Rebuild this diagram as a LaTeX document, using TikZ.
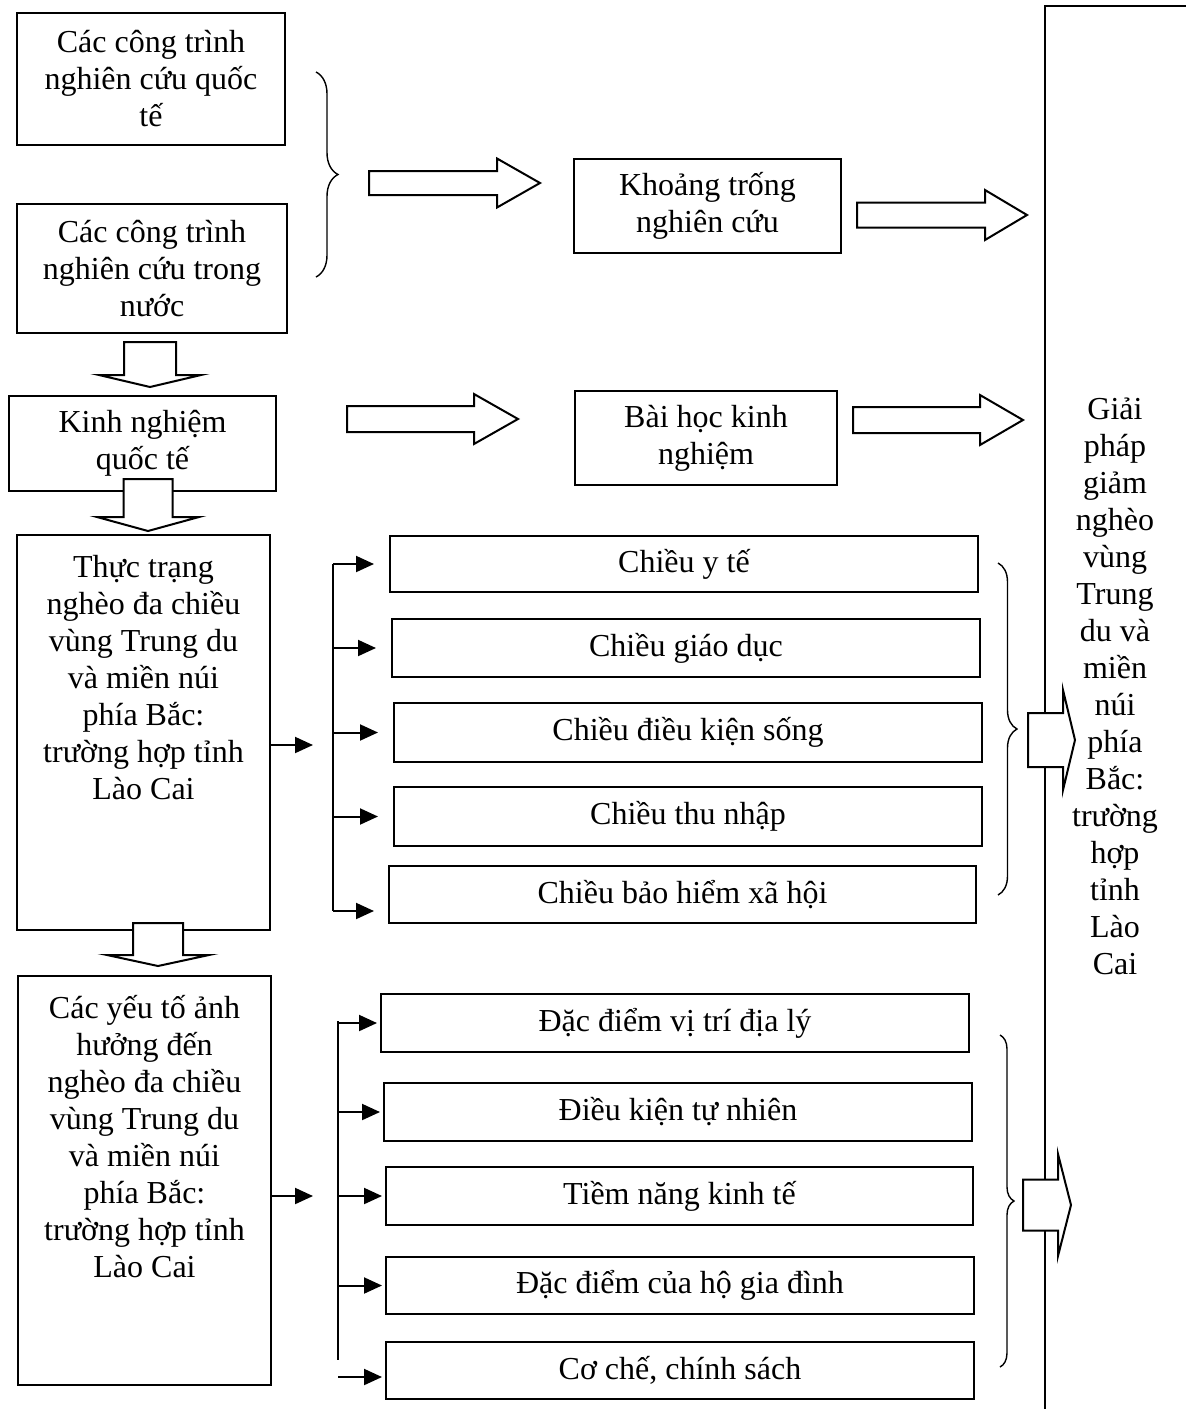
\documentclass[tikz,border=0pt]{standalone}
\usepackage{fontspec}
\setmainfont{Liberation Serif}
\usetikzlibrary{arrows.meta,decorations.pathreplacing}

\tikzset{
  box/.style={draw, rectangle, line width=1pt, align=center, inner sep=2pt},
  tallbox/.style={draw, rectangle, line width=1pt, inner sep=0pt},
  tip/.style={-{Triangle[length=9pt,width=8pt]}, line width=1pt},
  hollow/.style={draw, fill=white, line width=1pt, line join=miter},
  curly/.style={decorate, decoration={brace, amplitude=#1}, line width=0.7pt},
}
% block arrows: start, head base, tip, centre line, shaft half width, head half width
\newcommand{\hollowR}[6]{\draw[hollow] ({#1},{#4-#5}) -- ({#2},{#4-#5}) -- ({#2},{#4-#6}) -- ({#3},{#4}) -- ({#2},{#4+#6}) -- ({#2},{#4+#5}) -- ({#1},{#4+#5}) -- cycle;}
\newcommand{\hollowD}[6]{\draw[hollow] ({#1-#5},{#2}) -- ({#1+#5},{#2}) -- ({#1+#5},{#3}) -- ({#1+#6},{#3}) -- ({#1},{#4}) -- ({#1-#6},{#3}) -- ({#1-#5},{#3}) -- cycle;}

\begin{document}
\begin{tikzpicture}[x=0.5pt, y=-0.5pt, font=\fontsize{16pt}{18.5pt}\selectfont]
\useasboundingbox (0,0) rectangle (1186,1409);

% right frame (cut by the page)
\draw[line width=1pt] (1045,1420) |- (1200,6);

% left column
\node (intl) [box, minimum width=134pt, minimum height=66pt] at (151,79) {Các công trình\\nghiên cứu quốc\\tế};
\node (dom) [box, minimum width=135pt, minimum height=64.5pt] at (152,268.5) {Các công trình\\nghiên cứu trong\\nước};
\node (kinhnghiem) [box, minimum width=133.5pt, minimum height=47.5pt] at (142.5,443.5) {Kinh nghiệm\\quốc tế};
\node (thuctrang) [tallbox] at (143.5,732.5) {\parbox[c][197.5pt][t]{126.5pt}{\centering\rule{0pt}{21pt}Thực trạng\\nghèo đa chiều\\vùng Trung du\\và miền núi\\phía Bắc:\\trường hợp tỉnh\\Lào Cai}};
\node (yeuto) [tallbox] at (144.5,1180.5) {\parbox[c][204.5pt][t]{126.5pt}{\centering\rule{0pt}{21pt}Các yếu tố ảnh\\hưởng đến\\nghèo đa chiều\\vùng Trung du\\và miền núi\\phía Bắc:\\trường hợp tỉnh\\Lào Cai}};

% middle column
\node (gap) [box, minimum width=133.5pt, minimum height=47pt] at (707.5,206) {Khoảng trống\\nghiên cứu};
\node (baihoc) [box, minimum width=131pt, minimum height=47pt] at (706,438) {Bài học kinh\\nghiệm};

\node (yte) [box, minimum width=294pt, minimum height=28pt] at (684,564) {Chiều y tế};
\node (giaoduc) [box, minimum width=294pt, minimum height=29pt] at (686,648) {Chiều giáo dục};
\node (dieukien) [box, minimum width=294pt, minimum height=29.5pt] at (688,732.5) {Chiều điều kiện sống};
\node (thunhap) [box, minimum width=294pt, minimum height=29.5pt] at (688,816.5) {Chiều thu nhập};
\node (bhxh) [box, minimum width=293.5pt, minimum height=28.5pt] at (682.5,894.5) {Chiều bảo hiểm xã hội};

\node (vitri) [box, minimum width=294pt, minimum height=29pt] at (675,1023) {Đặc điểm vị trí địa lý};
\node (tunhien) [box, minimum width=294pt, minimum height=29pt] at (678,1112) {Điều kiện tự nhiên};
\node (tiemnang) [box, minimum width=293.5pt, minimum height=29pt] at (679.5,1196) {Tiềm năng kinh tế};
\node (hogd) [box, minimum width=294pt, minimum height=28.5pt] at (680,1285.5) {Đặc điểm của hộ gia đình};
\node (coche) [box, minimum width=294pt, minimum height=28.5pt] at (680,1370.5) {Cơ chế, chính sách};

% braces
\draw[curly=11pt] (316,72) -- (316,277);
\draw[curly=9.5pt] (998,563) -- (998,895);
\draw[curly=7pt] (1000,1035) -- (1000,1367);

% branching arrows, upper group
\coordinate (upin) at (313,745);
\coordinate (ubtop) at (333,564);
\coordinate (ubbot) at (333,911);
\draw[tip] (thuctrang.east |- upin) -- (upin);
\draw[line width=1pt] (ubtop) -- (ubbot);
\foreach \n in {yte,giaoduc,dieukien,thunhap}
  \draw[tip, shorten >=7.5pt] (ubtop |- \n.west) -- (\n.west);
\draw[tip, shorten >=7pt] (ubbot) -- (ubbot -| bhxh.west);

% branching arrows, lower group
\coordinate (lowin) at (313,1196);
\coordinate (lbtop) at (338,1021);
\coordinate (lbbot) at (338,1360);
\coordinate (lblast) at (338,1377);
\draw[tip] (yeuto.east |- lowin) -- (lowin);
\draw[line width=1pt] (lbtop) -- (lbbot);
\foreach \n in {vitri,tunhien,tiemnang,hogd}
  \draw[tip, shorten >=1.5pt] (lbtop |- \n.west) -- (\n.west);
\draw[tip, shorten >=1.5pt] (lblast) -- (lblast -| coche.west);

% block arrows
\hollowR{369}{497}{540}{183}{12}{24.5}
\hollowR{857}{985}{1027}{215}{12.5}{25}
\hollowR{347}{474}{518}{419}{13}{25}
\hollowR{853}{980}{1023}{420}{13}{25}
\hollowR{1028}{1063}{1075}{740}{27}{50}
\hollowR{1023}{1058}{1071}{1205}{25.5}{51}
\hollowD{150}{342}{375}{387}{26}{51}
\hollowD{148}{479}{517}{531}{24.5}{51}
\hollowD{158}{923}{955}{966}{25}{51}

% result
\node (giaiphap) [align=center] at (1115,686) {Giải\\pháp\\giảm\\nghèo\\vùng\\Trung\\du và\\miền\\núi\\phía\\Bắc:\\trường\\hợp\\tỉnh\\Lào\\Cai};
\end{tikzpicture}
\end{document}
